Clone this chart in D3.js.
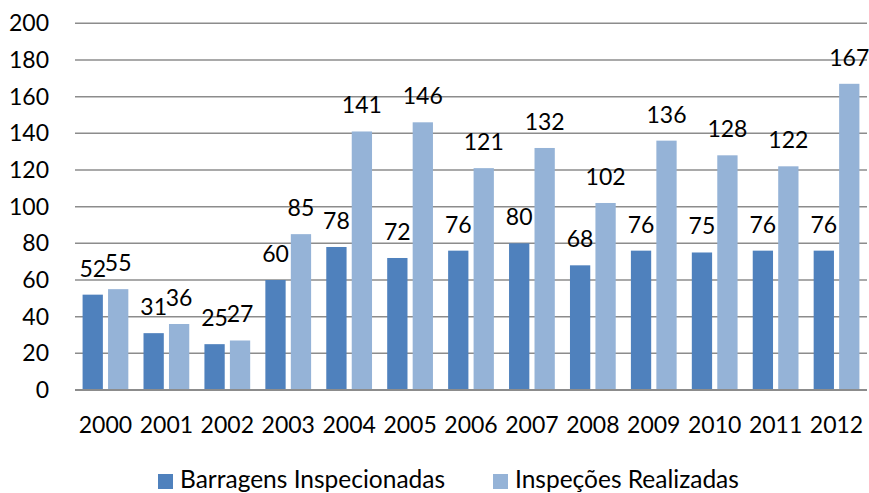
<!DOCTYPE html>
<html><head><meta charset="utf-8">
<script src="https://cdn.jsdelivr.net/npm/d3@7"></script>
<style>body{margin:0;background:#fff}svg{display:block}text{font-family:Lato,"Open Sans",sans-serif;fill:#000}</style>
</head><body><svg id="c" width="869" height="493"></svg>
<script>
const years = ["2000","2001","2002","2003","2004","2005","2006","2007","2008","2009","2010","2011","2012"];
const barragens = [52,31,25,60,78,72,76,80,68,76,75,76,76];
const inspecoes = [55,36,27,85,141,146,121,132,102,136,128,122,167];
const seriesNames = ["Barragens Inspecionadas","Inspeções Realizadas"];
const colors = ["#4F81BD","#95B3D7"];
const yTicks = [0,20,40,60,80,100,120,140,160,180,200];

const svg = d3.select("#c");
const L = 75, R = 867, T = 23.3, B = 390;
const x = d3.scaleBand().domain(years).range([L, R]).paddingInner(0).paddingOuter(0);
const y = d3.scaleLinear().domain([0,200]).range([B, T]);
const fs = 23;

// gridlines
svg.append("g").selectAll("line").data(yTicks.filter(d=>d>0)).join("line")
  .attr("x1", L).attr("x2", R).attr("y1", d=>y(d)).attr("y2", d=>y(d))
  .attr("stroke", "#8c8c8c").attr("stroke-width", 1.5);

// y axis labels
const yAxis = d3.axisLeft(y).tickValues(yTicks).tickSize(0).tickPadding(0);
const ga = svg.append("g").attr("transform", `translate(49,0)`).call(yAxis);
ga.select(".domain").remove();
ga.selectAll("text").attr("font-size", fs).attr("font-family", "Lato,'Open Sans',sans-serif").attr("fill","#000");

// bars
const bw = x.bandwidth();
const barW = bw * 0.333, gap = bw * 0.085, pad = (bw - 2*barW - gap)/2;
const data = [barragens, inspecoes];
data.forEach((vals, si) => {
  const g = svg.append("g");
  const xs = d => x(years[d]) + pad + si*(barW+gap);
  g.selectAll("rect").data(vals).join("rect")
    .attr("x", (d,i)=>xs(i)).attr("width", barW)
    .attr("y", d=>y(d)).attr("height", d=>y(0)-y(d))
    .attr("fill", colors[si]);
  g.selectAll("text").data(vals).join("text")
    .attr("x", (d,i)=>xs(i)+barW/2).attr("y", d=>y(d)-18)
    .attr("text-anchor","middle").attr("font-size", fs).text(d=>d);
});

// x axis line
svg.append("line").attr("x1", L).attr("x2", R).attr("y1", B).attr("y2", B)
  .attr("stroke", "#8c8c8c").attr("stroke-width", 2);

// x axis labels
const xAxis = d3.axisBottom(x).tickSize(0).tickPadding(0);
const gx = svg.append("g").attr("transform", `translate(0,${B})`).call(xAxis);
gx.select(".domain").remove();
gx.selectAll("text").attr("font-size", fs).attr("font-family", "Lato,'Open Sans',sans-serif").attr("fill","#000")
  .attr("dy", null).attr("y", 43);

// legend
const leg = svg.append("g");
const lx = [158, 493];
seriesNames.forEach((n, i) => {
  leg.append("rect").attr("x", lx[i]).attr("y", 474).attr("width", 15).attr("height", 15).attr("fill", colors[i]);
  leg.append("text").attr("x", lx[i]+22).attr("y", 488).attr("font-size", 24.5).text(n);
});
</script></body></html>
